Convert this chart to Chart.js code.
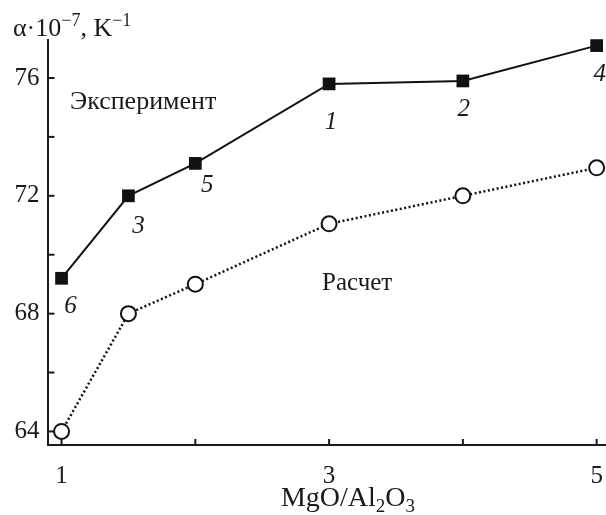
<!DOCTYPE html>
<html>
<head>
<meta charset="utf-8">
<script src="https://cdn.jsdelivr.net/npm/chart.js@4"></script>
<style>
html,body{margin:0;padding:0;background:#fff;}
#wrap{width:606px;height:515px;}
</style>
</head>
<body>
<div id="wrap"><canvas id="c" width="606" height="515"></canvas></div>
<script>
// ---- data ----
const ratio = [1, 1.5, 2, 3, 4, 5];
const experiment = [69.2, 72.0, 73.1, 75.8, 75.9, 77.1];
const calculated = [64.0, 68.0, 69.0, 71.05, 72.0, 72.95];
const sampleLabels = ['6', '3', '5', '1', '2', '4'];
const xTicks = [1, 2, 3, 4, 5];
const xTickLabels = [1, 3, 5];
const yTicks = [64, 66, 68, 70, 72, 74, 76];
const yTickLabels = [64, 68, 72, 76];
const seriesNames = ['Эксперимент', 'Расчет'];

const FONT = '"Liberation Serif", "Times New Roman", serif';
const INK = '#1a1a1a';

const labelOffsets = [[9, 28], [10, 31], [12, 22], [2, 39], [1, 28], [3, 29]];

const overlay = {
  id: 'overlay',
  afterDraw(chart) {
    const ctx = chart.ctx;
    const xs = chart.scales.x, ys = chart.scales.y;
    const ca = chart.chartArea;
    ctx.save();
    // inward tick marks
    ctx.strokeStyle = INK;
    ctx.lineWidth = 2;
    xTicks.forEach(v => {
      const px = xs.getPixelForValue(v);
      ctx.beginPath(); ctx.moveTo(px, ca.bottom); ctx.lineTo(px, ca.bottom - 6); ctx.stroke();
    });
    yTicks.forEach(v => {
      const py = ys.getPixelForValue(v);
      ctx.beginPath(); ctx.moveTo(ca.left, py); ctx.lineTo(ca.left + 7, py); ctx.stroke();
    });
    // sample numbers (italic)
    ctx.fillStyle = INK;
    ctx.font = 'italic 25px ' + FONT;
    ctx.textAlign = 'center';
    ctx.textBaseline = 'middle';
    sampleLabels.forEach((t, i) => {
      const px = xs.getPixelForValue(ratio[i]) + labelOffsets[i][0];
      const py = ys.getPixelForValue(experiment[i]) + labelOffsets[i][1];
      ctx.fillText(t, px, py);
    });
    // series names
    ctx.font = '26px ' + FONT;
    ctx.fillText(seriesNames[0], xs.getPixelForValue(1.61), ys.getPixelForValue(75.18));
    ctx.font = '25px ' + FONT;
    ctx.fillText(seriesNames[1], xs.getPixelForValue(3.21), ys.getPixelForValue(69.04));

    // helper for text with sub/superscripts
    function rich(parts, x, y, align, big, small) {
      let total = 0;
      parts.forEach(p => { ctx.font = (p.s ? small : big) + 'px ' + FONT; total += ctx.measureText(p.t).width; });
      let cx = align === 'center' ? x - total / 2 : x;
      ctx.textAlign = 'left';
      ctx.textBaseline = 'alphabetic';
      parts.forEach(p => {
        ctx.font = (p.s ? small : big) + 'px ' + FONT;
        ctx.fillText(p.t, cx, y + (p.s || 0));
        cx += ctx.measureText(p.t).width;
      });
    }
    // y-axis title
    rich([{t: 'α·10'}, {t: '−7', s: -10}, {t: ', K'}, {t: '−1', s: -10}], 13, 36, 'left', 26, 18);
    // x-axis title
    rich([{t: 'MgO/Al'}, {t: '2', s: 6}, {t: 'O'}, {t: '3', s: 6}], 348, 506, 'center', 28, 19);
    ctx.restore();
  }
};

new Chart(document.getElementById('c'), {
  type: 'line',
  data: {
    datasets: [
      {
        label: seriesNames[0],
        data: ratio.map((x, i) => ({x, y: experiment[i]})),
        borderColor: '#111',
        borderWidth: 2,
        pointStyle: 'rect',
        pointRadius: 9,
        pointBackgroundColor: '#111',
        pointBorderColor: '#111',
        pointBorderWidth: 0,
        tension: 0
      },
      {
        label: seriesNames[1],
        data: ratio.map((x, i) => ({x, y: calculated[i]})),
        borderColor: '#111',
        borderWidth: 2.5,
        borderDash: [2, 2.5],
        pointStyle: 'circle',
        pointRadius: 7.5,
        pointBackgroundColor: '#fff',
        pointBorderColor: '#111',
        pointBorderWidth: 2,
        tension: 0
      }
    ]
  },
  options: {
    responsive: false,
    animation: false,
    devicePixelRatio: 1,
    clip: false,
    layout: {autoPadding: false, padding: {top: 40, right: 0, left: 0, bottom: 0}},
    plugins: {legend: {display: false}, tooltip: {enabled: false}},
    scales: {
      x: {
        type: 'linear',
        min: 0.895,
        max: 5.07,
        afterBuildTicks: s => { s.ticks = xTicks.map(v => ({value: v})); },
        afterFit: s => { s.height = 70; s.paddingLeft = 0; s.paddingRight = 0; },
        ticks: {
          autoSkip: false,
          maxRotation: 0,
          padding: 16,
          color: INK,
          font: {family: FONT, size: 25},
          callback: v => xTickLabels.includes(v) ? String(v) : ''
        },
        grid: {display: false, drawTicks: false},
        border: {display: true, color: INK, width: 2}
      },
      y: {
        type: 'linear',
        min: 63.54,
        max: 77.29,
        afterBuildTicks: s => { s.ticks = yTicks.map(v => ({value: v})); },
        afterFit: s => { s.width = 47.5; s.paddingTop = 0; s.paddingBottom = 0; },
        ticks: {
          autoSkip: false,
          padding: 8,
          color: INK,
          font: {family: FONT, size: 25},
          callback: v => yTickLabels.includes(v) ? String(v) : ''
        },
        grid: {display: false, drawTicks: false},
        border: {display: true, color: INK, width: 2}
      }
    }
  },
  plugins: [overlay]
});
</script>
</body>
</html>
